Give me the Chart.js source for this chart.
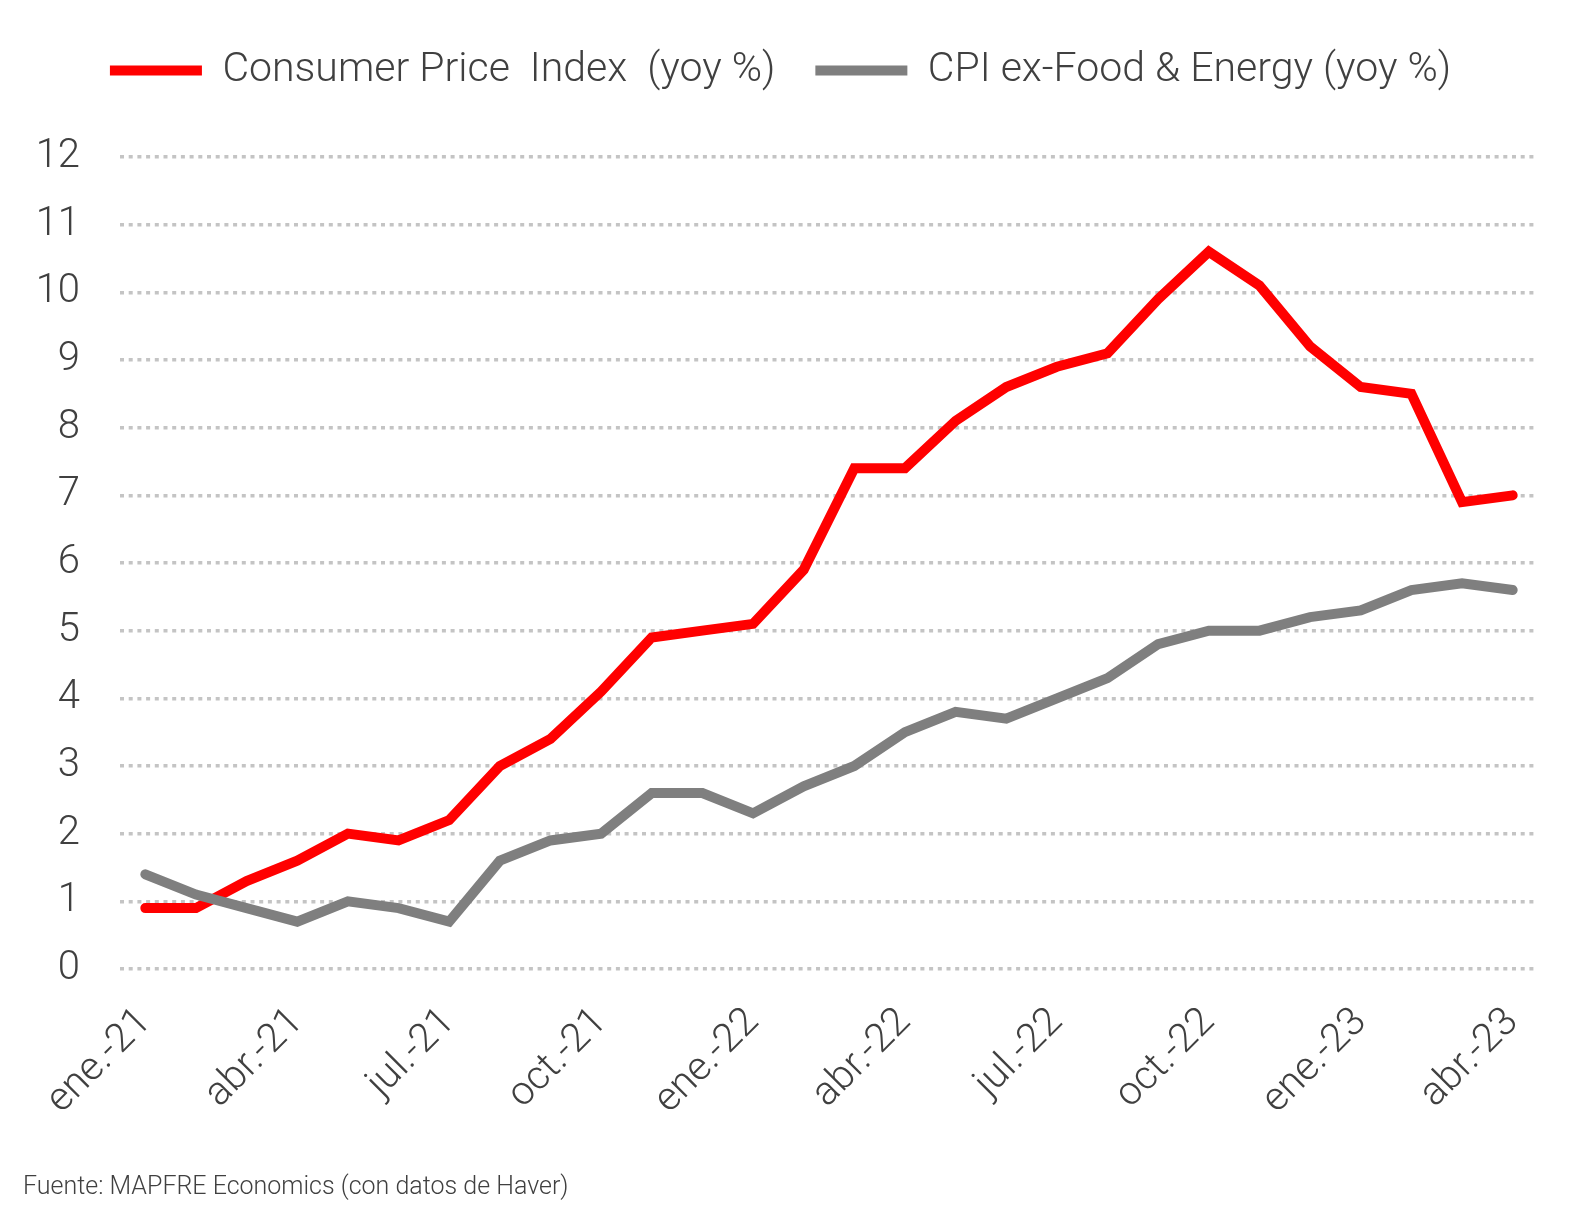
<!DOCTYPE html>
<html>
<head>
<meta charset="utf-8">
<script src="https://cdn.jsdelivr.net/npm/chart.js@4.4.0/dist/chart.umd.min.js"></script>
<style>
html,body{margin:0;padding:0;background:#fff;}
#wrap{width:1596px;height:1223px;position:relative;}
</style>
</head>
<body>
<div id="wrap"><canvas id="c" width="1596" height="1223"></canvas></div>
<script>
const months = ["ene.-21","feb.-21","mar.-21","abr.-21","may.-21","jun.-21","jul.-21","ago.-21","sept.-21","oct.-21","nov.-21","dic.-21",
  "ene.-22","feb.-22","mar.-22","abr.-22","may.-22","jun.-22","jul.-22","ago.-22","sept.-22","oct.-22","nov.-22","dic.-22",
  "ene.-23","feb.-23","mar.-23","abr.-23"];
const cpi = [0.9,0.9,1.3,1.6,2.0,1.9,2.2,3.0,3.4,4.1,4.9,5.0,5.1,5.9,7.4,7.4,8.1,8.6,8.9,9.1,9.9,10.6,10.1,9.2,8.6,8.5,6.9,7.0];
const core = [1.4,1.1,0.9,0.7,1.0,0.9,0.7,1.6,1.9,2.0,2.6,2.6,2.3,2.7,3.0,3.5,3.8,3.7,4.0,4.3,4.8,5.0,5.0,5.2,5.3,5.6,5.7,5.6];
const seriesNames = ["Consumer Price  Index  (yoy %)", "CPI ex-Food & Energy (yoy %)"];
const yTicks = [0,1,2,3,4,5,6,7,8,9,10,11,12];
const sourceText = "Fuente: MAPFRE Economics (con datos de Haver)";

const FONT = "Roboto, 'DejaVu Sans', sans-serif";
const TXT = "#404040";

new Chart(document.getElementById('c'), {
  type: 'line',
  data: {
    labels: months,
    datasets: [
      { label: seriesNames[0], data: cpi, borderColor: '#ff0000', backgroundColor: '#ff0000',
        borderWidth: 10, pointRadius: 0, tension: 0, borderCapStyle: 'round', order: 2 },
      { label: seriesNames[1], data: core, borderColor: '#7f7f7f', backgroundColor: '#7f7f7f',
        borderWidth: 10, pointRadius: 0, tension: 0, borderCapStyle: 'round', order: 1 }
    ]
  },
  options: {
    responsive: false,
    animation: false,
    layout: { padding: { left: 23, right: 58, top: 10, bottom: 12 } },
    plugins: {
      legend: {
        position: 'top',
        labels: {
          color: TXT,
          font: { family: FONT, size: 41, weight: 300 },
          usePointStyle: true,
          pointStyle: 'line',
          pointStyleWidth: 92,
          boxHeight: 41,
          padding: 40,
          sort: (a, b) => a.datasetIndex - b.datasetIndex
        }
      },
      title: {
        display: true,
        text: ' ',
        position: 'top',
        weight: 500,
        font: { size: 20 },
        padding: { top: 16, bottom: 16 }
      },
      subtitle: {
        display: true,
        text: sourceText,
        position: 'bottom',
        align: 'start',
        color: TXT,
        font: { family: FONT, size: 25, weight: 300 },
        padding: { top: 8, bottom: 8 }
      },
      tooltip: { enabled: false }
    },
    scales: {
      x: {
        offset: true,
        grid: { display: false, drawTicks: false },
        border: { display: false },
        ticks: {
          autoSkip: false,
          maxRotation: 45,
          minRotation: 45,
          padding: 30,
          color: TXT,
          font: { family: FONT, size: 40, weight: 300 },
          callback: function(v, i) { return i % 3 === 0 ? months[i] : ''; }
        },
        afterFit: function(s) { s.height = 196; }
      },
      y: {
        min: 0, max: 12,
        afterBuildTicks: function(s) { s.ticks = yTicks.map(v => ({ value: v })); },
        grid: { color: '#c4c4c4', lineWidth: 3.5, drawTicks: false },
        border: { display: false, dash: [4, 4.7] },
        ticks: {
          padding: 40,
          color: TXT,
          font: { family: FONT, size: 40, weight: 300 }
        },
        afterFit: function(s) { s.width = 97; }
      }
    }
  }
});
</script>
</body>
</html>
